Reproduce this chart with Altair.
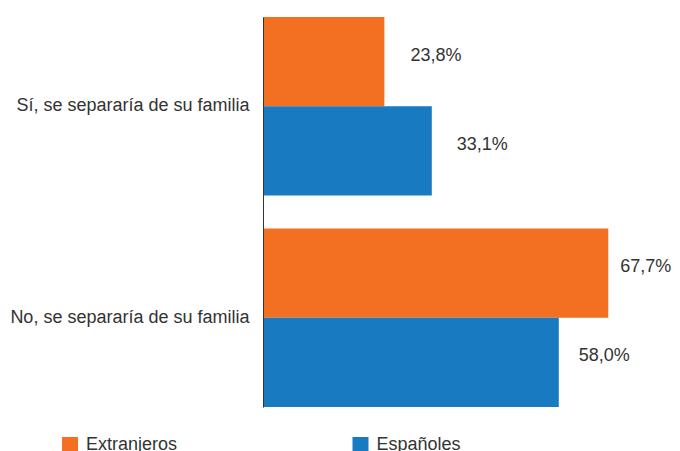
import altair as alt
import pandas as pd

categories = ["Sí, se separaría de su familia", "No, se separaría de su familia"]
series = ["Extranjeros", "Españoles"]
extranjeros = [23.8, 67.7]
espanoles = [33.1, 58.0]
colors = ["#F36F21", "#187BC2"]

rows = []
for i, c in enumerate(categories):
    rows.append({"cat": c, "serie": "Extranjeros", "v": extranjeros[i]})
    rows.append({"cat": c, "serie": "Españoles", "v": espanoles[i]})
df = pd.DataFrame(rows)
df["label"] = df["v"].map(lambda v: f"{v:.1f}".replace(".", ",") + "%")

FONT = "Liberation Sans"
FS = 18

y = alt.Y(
    "cat:N",
    sort=categories,
    scale=alt.Scale(paddingInner=0.156, paddingOuter=0),
    axis=alt.Axis(
        title=None, ticks=False, labelPadding=14, labelFontSize=FS,
        labelColor="#333333", domainColor="#333333", domainWidth=1,
        labelFont=FONT, labelLimit=400, zindex=1,
    ),
)
yoff = alt.YOffset("serie:N", sort=series, scale=alt.Scale(domain=series, paddingInner=0, paddingOuter=0))
x = alt.X("v:Q", scale=alt.Scale(domain=[0, 80]), axis=None)

bars = alt.Chart(df).mark_bar().encode(
    x=x,
    y=y,
    yOffset=yoff,
    color=alt.Color(
        "serie:N",
        sort=series,
        scale=alt.Scale(domain=series, range=colors),
        legend=alt.Legend(
            title=None, orient="none", legendX=-202, legendY=419,
            direction="horizontal", columns=2, columnPadding=173.5,
            symbolType="square", symbolSize=256, symbolStrokeWidth=0,
            symbolOpacity=1, labelFontSize=FS, labelFont=FONT,
            labelColor="#333333", labelOffset=7,
        ),
    ),
)

def labels(cat, serie, dx):
    return alt.Chart(df).transform_filter(
        (alt.datum.cat == cat) & (alt.datum.serie == serie)
    ).mark_text(
        align="left", baseline="middle", dx=dx, dy=-6,
        fontSize=FS, font=FONT, color="#333333",
    ).encode(x=x, y=y, yOffset=yoff, text="label:N")

chart = alt.layer(
    bars,
    labels(categories[0], series[0], 26),
    labels(categories[0], series[1], 25),
    labels(categories[1], series[0], 12),
    labels(categories[1], series[1], 20),
).properties(
    width=408,
    height=390,
    padding={"left": 255, "top": 9, "right": 1, "bottom": 44},
    autosize=alt.AutoSizeParams(type="none"),
).configure_view(stroke=None)

chart.save("out.html", embed_options={"renderer": "svg", "actions": False})
